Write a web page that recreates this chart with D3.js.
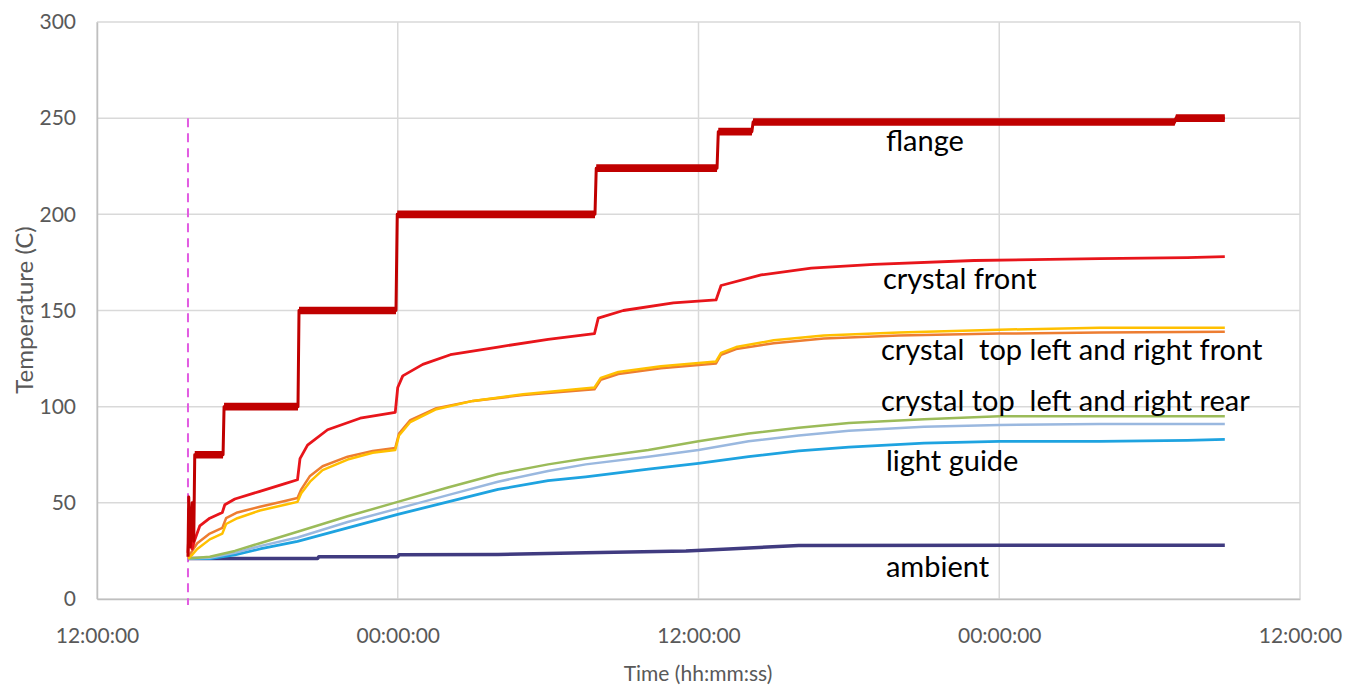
<!DOCTYPE html>
<html><head><meta charset="utf-8">
<script src="https://cdn.jsdelivr.net/npm/d3@7"></script>
<style>
body{margin:0;background:#fff;}
svg{display:block;}
text{font-family:Lato,"Open Sans",sans-serif;}
</style></head>
<body><svg id="c" width="1350" height="687"></svg>
<script>
// time in hours after 12:00:00 of the first day
const xTickLabels = ["12:00:00","00:00:00","12:00:00","00:00:00","12:00:00"];
const yTicks = [0,50,100,150,200,250,300];
const markerTime = 3.63;

const flange = [[3.63,22],[3.66,53],[3.72,27],[3.80,50],[3.86,30],[3.90,75],[5.03,75],[5.07,100],[8.02,100],[8.06,150],[11.93,150],[11.98,200],[19.87,200],[19.92,224],[24.74,224],[24.79,243],[26.13,243],[26.18,248],[43.0,248],[43.05,250],[45.0,250]];
const crystalFront = [[3.63,24],[3.70,45],[3.80,26],[3.88,30],[4.1,38],[4.5,42],[5.0,45],[5.1,49],[5.5,52],[6.5,56],[7.5,60],[8.0,62],[8.1,73],[8.4,80],[9.2,88],[10.5,94],[11.9,97],[12.0,110],[12.2,116],[13.0,122],[14.1,127],[16.0,131],[18.0,135],[19.85,138],[20.0,146],[21.0,150],[23.0,154],[24.7,155.5],[24.9,163],[26.5,168.5],[28.5,172],[31.0,174],[35.0,176],[40.0,177],[43.5,177.5],[45.0,178]];
const topFrontA = [[3.63,22],[3.8,25],[4.0,29],[4.5,34],[5.0,37],[5.15,42],[5.6,45],[6.5,48],[7.5,51],[8.0,52.5],[8.15,57],[8.5,64],[9.0,69],[10.0,74],[11.0,77],[11.9,78.5],[12.05,86],[12.5,93],[13.5,99],[15.0,103],[17.0,106],[19.85,109],[20.1,114],[20.8,117],[22.5,120],[24.7,122.5],[24.9,127],[25.5,130],[27,133],[29,135.5],[32,137],[36,138],[40,138.5],[45,139]];
const topFrontB = [[3.63,21],[3.8,23],[4.0,26],[4.5,31],[5.0,34],[5.15,39],[5.6,42],[6.5,46],[7.5,49],[8.0,50.5],[8.15,55],[8.5,61],[9.0,67],[10.0,72.5],[11.0,76],[11.9,77.5],[12.05,85],[12.5,92],[13.5,98.5],[15.0,103],[17.0,106.5],[19.85,110],[20.1,115],[20.8,118],[22.5,121],[24.7,123.5],[24.9,128],[25.5,131],[27,134.5],[29,137],[32,138.5],[36,140],[40,141],[45,141]];
const topRearA = [[3.63,21],[4.5,22],[5.5,25],[6.5,29],[8.0,35],[10,43],[12,50.5],[14,58],[16,65],[18,70],[19.5,73],[22,77.5],[24,82],[26,86],[28,89],[30,91.5],[33,93.5],[36,95],[40,95],[45,95]];
const topRearB = [[3.63,21],[4.5,21.5],[5.5,24],[6.5,27.5],[8,32],[10,40],[12,47],[14,54],[16,61],[18,66.5],[19.5,70],[22,74],[24,77.5],[26,82],[28,85],[30,87.5],[33,89.5],[36,90.5],[40,91],[45,91]];
const lightGuide = [[3.63,21],[4.5,21],[5.5,23],[6.5,26],[8,30],[10,37],[12,44],[14,50.5],[16,57],[18,61.5],[19.5,63.5],[22,67.5],[24,70.5],[26,74],[28,77],[30,79],[33,81],[36,82],[40,82],[43.5,82.5],[45,83]];
const ambient = [[3.63,21],[8.8,21],[8.85,22],[12.0,22],[12.05,23],[16,23.2],[19.5,24],[23.5,25],[25.2,26],[26,26.5],[28,27.8],[45,28]];
const flangeNoise = 2.0;   // half-width of the flange's noisy band (°C)

const labels = [
  {text:"flange", t:31.48, v:233},
  {text:"crystal front", t:31.36, v:161},
  {text:"crystal  top left and right front", t:31.28, v:124.5},
  {text:"crystal top  left and right rear", t:31.28, v:97.5},
  {text:"light guide", t:31.48, v:66.8},
  {text:"ambient", t:31.48, v:11.2}
];

const base = new Date(2000,0,1,12,0,0);
const toDate = h => new Date(base.getTime() + h*3600000);

const svg = d3.select("#c");
const L=97, R=1300, T=22, B=599;
const x = d3.scaleTime().domain([base, toDate(48)]).range([L,R]);
const y = d3.scaleLinear().domain([0,300]).range([B,T]);

// grid
const xTickVals = d3.range(0,49,12).map(toDate);
svg.append("g").selectAll("line").data(yTicks).join("line")
  .attr("x1",L).attr("x2",R).attr("y1",d=>y(d)).attr("y2",d=>y(d))
  .attr("stroke","#d9d9d9").attr("stroke-width",1.5);
svg.append("g").selectAll("line").data(xTickVals).join("line")
  .attr("x1",d=>x(d)).attr("x2",d=>x(d)).attr("y1",T).attr("y2",B)
  .attr("stroke","#d9d9d9").attr("stroke-width",1.5);

// axes
const yAxis = svg.append("g").attr("transform",`translate(${L},0)`)
  .call(d3.axisLeft(y).tickValues(yTicks).tickSize(0).tickPadding(21));
const xAxis = svg.append("g").attr("transform",`translate(0,${B})`)
  .call(d3.axisBottom(x).tickValues(xTickVals).tickSize(0).tickPadding(37)
     .tickFormat((d,i)=>xTickLabels[i]));
[yAxis,xAxis].forEach(g=>{
  g.select(".domain").attr("stroke","#bfbfbf").attr("stroke-width",1.5);
  g.selectAll("text").attr("fill","#595959").style("font-size","21px");
});
xAxis.selectAll("text").attr("dy","0.35em");

svg.append("text").attr("x",698).attr("y",681).attr("text-anchor","middle")
  .attr("fill","#595959").style("font-size","21px").text("Time (hh:mm:ss)");
svg.append("text").attr("transform","translate(33,310) rotate(-90)").attr("text-anchor","middle")
  .attr("fill","#595959").style("font-size","24px").text("Temperature (C)");

// marker
svg.append("line").attr("x1",x(toDate(markerTime))).attr("x2",x(toDate(markerTime)))
  .attr("y1",y(250)).attr("y2",B+6)
  .attr("stroke","#e25ce2").attr("stroke-width",2).attr("stroke-dasharray","9,6");

const line = d3.line().x(d=>x(toDate(d[0]))).y(d=>y(d[1]));
const series = [
  {d:ambient, c:"#403b80", w:3.5},
  {d:lightGuide, c:"#1ea3e0", w:2.8},
  {d:topRearB, c:"#9ab8df", w:2.5},
  {d:topRearA, c:"#9bbb59", w:2.5},
  {d:topFrontA, c:"#ed7d31", w:2.5},
  {d:topFrontB, c:"#ffc000", w:2.5},
  {d:crystalFront, c:"#e8151b", w:2.8},
  {d:flange, c:"#c00000", w:3}
];
// flange noisy band
svg.append("path")
  .attr("d", d3.area().x(d=>x(toDate(d[0]))).y0(d=>y(d[1]-flangeNoise)).y1(d=>y(d[1]+flangeNoise))(flange))
  .attr("fill","#c00000");
svg.append("g").selectAll("path").data(series).join("path")
  .attr("d",s=>line(s.d)).attr("fill","none")
  .attr("stroke",s=>s.c).attr("stroke-width",s=>s.w).attr("stroke-linejoin","round");

svg.append("g").selectAll("text").data(labels).join("text")
  .attr("x",d=>x(toDate(d.t))).attr("y",d=>y(d.v))
  .attr("fill","#000").style("font-size","29px").style("white-space","pre")
  .attr("xml:space","preserve")
  .text(d=>d.text);
</script></body></html>
